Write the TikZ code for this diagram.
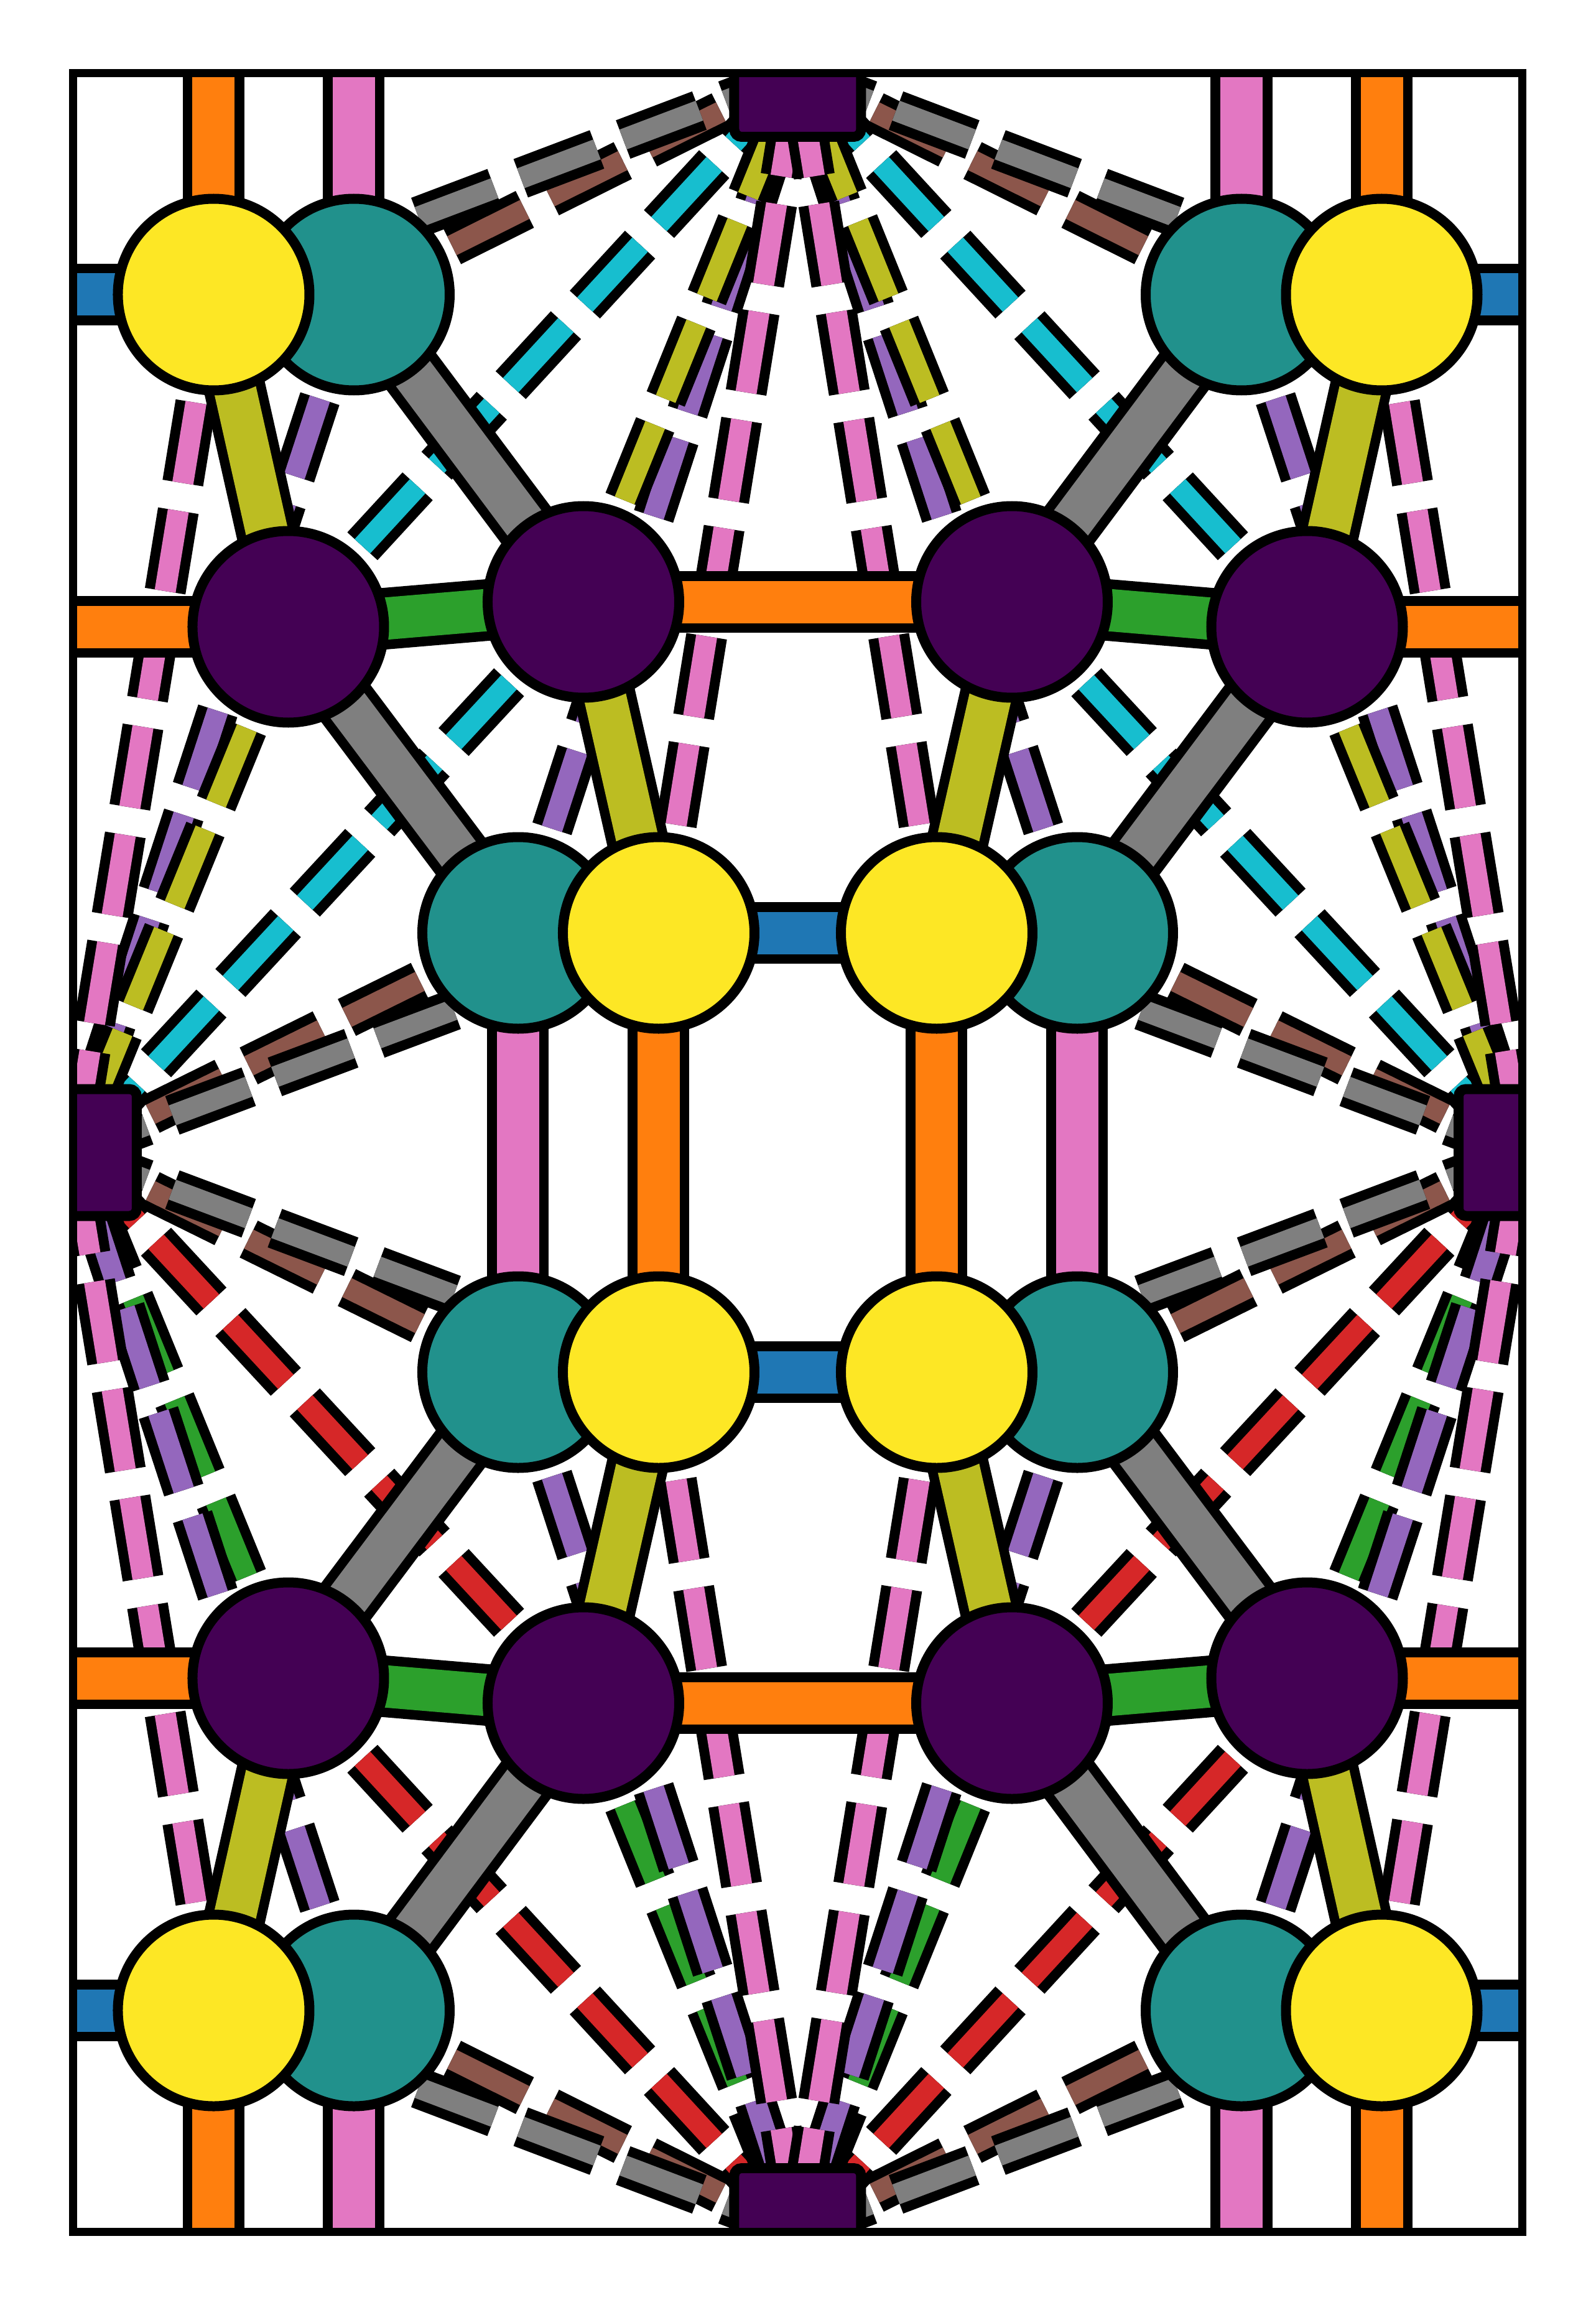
\documentclass[tikz,border=0pt]{standalone}
\usepackage{tikz}
\usetikzlibrary{backgrounds}
\usepackage{xcolor}
\definecolor{tabblue}{HTML}{1F77B4}
\definecolor{taborange}{HTML}{FF7F0E}
\definecolor{tabgreen}{HTML}{2CA02C}
\definecolor{tabred}{HTML}{D62728}
\definecolor{tabpurple}{HTML}{9467BD}
\definecolor{tabbrown}{HTML}{8C564B}
\definecolor{tabpink}{HTML}{E377C2}
\definecolor{tabgray}{HTML}{7F7F7F}
\definecolor{tabolive}{HTML}{BCBD22}
\definecolor{tabcyan}{HTML}{17BECF}
\definecolor{vdark}{HTML}{440154}
\definecolor{vteal}{HTML}{21918C}
\definecolor{vyellow}{HTML}{FDE725}

\begin{document}
\begin{tikzpicture}[
    atom/.style={circle, draw=black, line width=0.16cm, minimum size=3.08cm, inner sep=0pt},
    ynode/.style={atom, fill=vyellow},
    tnode/.style={atom, fill=vteal},
    pnode/.style={atom, fill=vdark},
    snode/.style={rectangle, rounded corners=0.12cm, draw=black, line width=0.16cm, fill=vdark, minimum size=2.04cm, inner sep=0pt},
    sbond/.style={draw=#1, line width=0.68cm, preaction={draw=black, line width=0.99cm}},
    dbond/.style={draw=#1, line width=0.34cm, dash pattern=on 1.31cm off 0.45cm,
        preaction={draw=black, line width=0.66cm, dash pattern=on 1.31cm off 0.45cm}}
]
    \useasboundingbox (-12.825,-18.525) rectangle (12.825,18.525);
    \coordinate (up) at (0,19);
    \coordinate (down) at (0,-19);
    \coordinate (lft) at (-13,0);
    \coordinate (rgt) at (13,0);

    \begin{scope}
        \clip (-11.645,-17.345) rectangle (11.645,17.345);
        \node[snode] (sT) at (0,17.345) {};
        \node[snode] (sB) at (0,-17.345) {};
        \node[snode] (sL) at (-11.645,0) {};
        \node[snode] (sR) at (11.645,0) {};
        \node[tnode] (tTL) at (-7.135,13.79) {};
        \node[tnode] (tTR) at (7.135,13.79) {};
        \node[tnode] (tBL) at (-7.135,-13.79) {};
        \node[tnode] (tBR) at (7.135,-13.79) {};
        \node[tnode] (tUL) at (-4.495,3.53) {};
        \node[tnode] (tUR) at (4.495,3.53) {};
        \node[tnode] (tLL) at (-4.495,-3.53) {};
        \node[tnode] (tLR) at (4.495,-3.53) {};
        \node[ynode] (yTL) at (-9.39,13.79) {};
        \node[ynode] (yTR) at (9.39,13.79) {};
        \node[ynode] (yBL) at (-9.39,-13.79) {};
        \node[ynode] (yBR) at (9.39,-13.79) {};
        \node[ynode] (yUL) at (-2.235,3.53) {};
        \node[ynode] (yUR) at (2.235,3.53) {};
        \node[ynode] (yLL) at (-2.235,-3.53) {};
        \node[ynode] (yLR) at (2.235,-3.53) {};
        \node[pnode] (pTLo) at (-8.19,8.45) {};
        \node[pnode] (pTLi) at (-3.445,8.85) {};
        \node[pnode] (pTRi) at (3.445,8.85) {};
        \node[pnode] (pTRo) at (8.19,8.45) {};
        \node[pnode] (pBLo) at (-8.19,-8.45) {};
        \node[pnode] (pBLi) at (-3.445,-8.85) {};
        \node[pnode] (pBRi) at (3.445,-8.85) {};
        \node[pnode] (pBRo) at (8.19,-8.45) {};
    \end{scope}

    \begin{scope}[on background layer]
        \clip (-11.645,-17.345) rectangle (11.645,17.345);
        \draw[dbond=tabcyan] (pTLo.center) -- (sT.center);
        \draw[dbond=tabcyan] (pTRo.center) -- (sT.center);
        \draw[dbond=tabcyan] (pTLi.center) -- (sL.center);
        \draw[dbond=tabcyan] (pTRi.center) -- (sR.center);
        \draw[dbond=tabred] (pBLo.center) -- (sB.center);
        \draw[dbond=tabred] (pBRo.center) -- (sB.center);
        \draw[dbond=tabred] (pBLi.center) -- (sL.center);
        \draw[dbond=tabred] (pBRi.center) -- (sR.center);
        \draw[dbond=tabbrown] (tTL.center) -- (sT.center);
        \draw[dbond=tabbrown] (tTR.center) -- (sT.center);
        \draw[dbond=tabbrown] (tUL.center) -- (sL.center);
        \draw[dbond=tabbrown] (tUR.center) -- (sR.center);
        \draw[dbond=tabbrown] (tBL.center) -- (sB.center);
        \draw[dbond=tabbrown] (tBR.center) -- (sB.center);
        \draw[dbond=tabbrown] (tLL.center) -- (sL.center);
        \draw[dbond=tabbrown] (tLR.center) -- (sR.center);
        \draw[dbond=tabgray] (yTL.center) -- (sT.center);
        \draw[dbond=tabgray] (yTR.center) -- (sT.center);
        \draw[dbond=tabgray] (yUL.center) -- (sL.center);
        \draw[dbond=tabgray] (yUR.center) -- (sR.center);
        \draw[dbond=tabgray] (yBL.center) -- (sB.center);
        \draw[dbond=tabgray] (yBR.center) -- (sB.center);
        \draw[dbond=tabgray] (yLL.center) -- (sL.center);
        \draw[dbond=tabgray] (yLR.center) -- (sR.center);
        \draw[dbond=tabgreen] (pBLi.center) -- (sB.center);
        \draw[dbond=tabgreen] (pBRi.center) -- (sB.center);
        \draw[dbond=tabgreen] (pBLo.center) -- (sL.center);
        \draw[dbond=tabgreen] (pBRo.center) -- (sR.center);
        \draw[dbond=tabpurple] (tUL.center) -- (sT.center);
        \draw[dbond=tabpurple] (tUR.center) -- (sT.center);
        \draw[dbond=tabpurple] (tTL.center) -- (sL.center);
        \draw[dbond=tabpurple] (tTR.center) -- (sR.center);
        \draw[dbond=tabpurple] (tLL.center) -- (sB.center);
        \draw[dbond=tabpurple] (tLR.center) -- (sB.center);
        \draw[dbond=tabpurple] (tBL.center) -- (sL.center);
        \draw[dbond=tabpurple] (tBR.center) -- (sR.center);
        \draw[dbond=tabolive] (pTLi.center) -- (sT.center);
        \draw[dbond=tabolive] (pTRi.center) -- (sT.center);
        \draw[dbond=tabolive] (pTLo.center) -- (sL.center);
        \draw[dbond=tabolive] (pTRo.center) -- (sR.center);
        \draw[dbond=tabpink] (yUL.center) -- (sT.center);
        \draw[dbond=tabpink] (yUR.center) -- (sT.center);
        \draw[dbond=tabpink] (yTL.center) -- (sL.center);
        \draw[dbond=tabpink] (yTR.center) -- (sR.center);
        \draw[dbond=tabpink] (yLL.center) -- (sB.center);
        \draw[dbond=tabpink] (yLR.center) -- (sB.center);
        \draw[dbond=tabpink] (yBL.center) -- (sL.center);
        \draw[dbond=tabpink] (yBR.center) -- (sR.center);

        \draw[sbond=tabgreen] (pTLo.center) -- (pTLi.center);
        \draw[sbond=tabgreen] (pTRo.center) -- (pTRi.center);
        \draw[sbond=tabgreen] (pBLo.center) -- (pBLi.center);
        \draw[sbond=tabgreen] (pBRo.center) -- (pBRi.center);
        \draw[sbond=tabgray] (tTL.center) -- (pTLi.center);
        \draw[sbond=tabgray] (tTR.center) -- (pTRi.center);
        \draw[sbond=tabgray] (pTLo.center) -- (tUL.center);
        \draw[sbond=tabgray] (pTRo.center) -- (tUR.center);
        \draw[sbond=tabgray] (tBL.center) -- (pBLi.center);
        \draw[sbond=tabgray] (tBR.center) -- (pBRi.center);
        \draw[sbond=tabgray] (pBLo.center) -- (tLL.center);
        \draw[sbond=tabgray] (pBRo.center) -- (tLR.center);
        \draw[sbond=tabolive] (yTL.center) -- (pTLo.center);
        \draw[sbond=tabolive] (yTR.center) -- (pTRo.center);
        \draw[sbond=tabolive] (pTLi.center) -- (yUL.center);
        \draw[sbond=tabolive] (pTRi.center) -- (yUR.center);
        \draw[sbond=tabolive] (yBL.center) -- (pBLo.center);
        \draw[sbond=tabolive] (yBR.center) -- (pBRo.center);
        \draw[sbond=tabolive] (pBLi.center) -- (yLL.center);
        \draw[sbond=tabolive] (pBRi.center) -- (yLR.center);
        \draw[sbond=taborange] (pTLi.center) -- (pTRi.center);
        \draw[sbond=taborange] (pBLi.center) -- (pBRi.center);
        \draw[sbond=taborange] (yUL.center) -- (yLL.center);
        \draw[sbond=taborange] (yUR.center) -- (yLR.center);
        \draw[sbond=taborange] (pTLo.center) -- (lft |- pTLo);
        \draw[sbond=taborange] (pTRo.center) -- (rgt |- pTRo);
        \draw[sbond=taborange] (pBLo.center) -- (lft |- pBLo);
        \draw[sbond=taborange] (pBRo.center) -- (rgt |- pBRo);
        \draw[sbond=taborange] (yTL.center) -- (yTL |- up);
        \draw[sbond=taborange] (yTR.center) -- (yTR |- up);
        \draw[sbond=taborange] (yBL.center) -- (yBL |- down);
        \draw[sbond=taborange] (yBR.center) -- (yBR |- down);
        \draw[sbond=tabblue] (yUL.center) -- (yUR.center);
        \draw[sbond=tabblue] (yLL.center) -- (yLR.center);
        \draw[sbond=tabblue] (yTL.center) -- (lft |- yTL);
        \draw[sbond=tabblue] (yTR.center) -- (rgt |- yTR);
        \draw[sbond=tabblue] (yBL.center) -- (lft |- yBL);
        \draw[sbond=tabblue] (yBR.center) -- (rgt |- yBR);
        \draw[sbond=tabpink] (tUL.center) -- (tLL.center);
        \draw[sbond=tabpink] (tUR.center) -- (tLR.center);
        \draw[sbond=tabpink] (tTL.center) -- (tTL |- up);
        \draw[sbond=tabpink] (tTR.center) -- (tTR |- up);
        \draw[sbond=tabpink] (tBL.center) -- (tBL |- down);
        \draw[sbond=tabpink] (tBR.center) -- (tBR |- down);
    \end{scope}

    \draw[line width=0.13cm] (-11.645,-17.345) rectangle (11.645,17.345);
\end{tikzpicture}
\end{document}
